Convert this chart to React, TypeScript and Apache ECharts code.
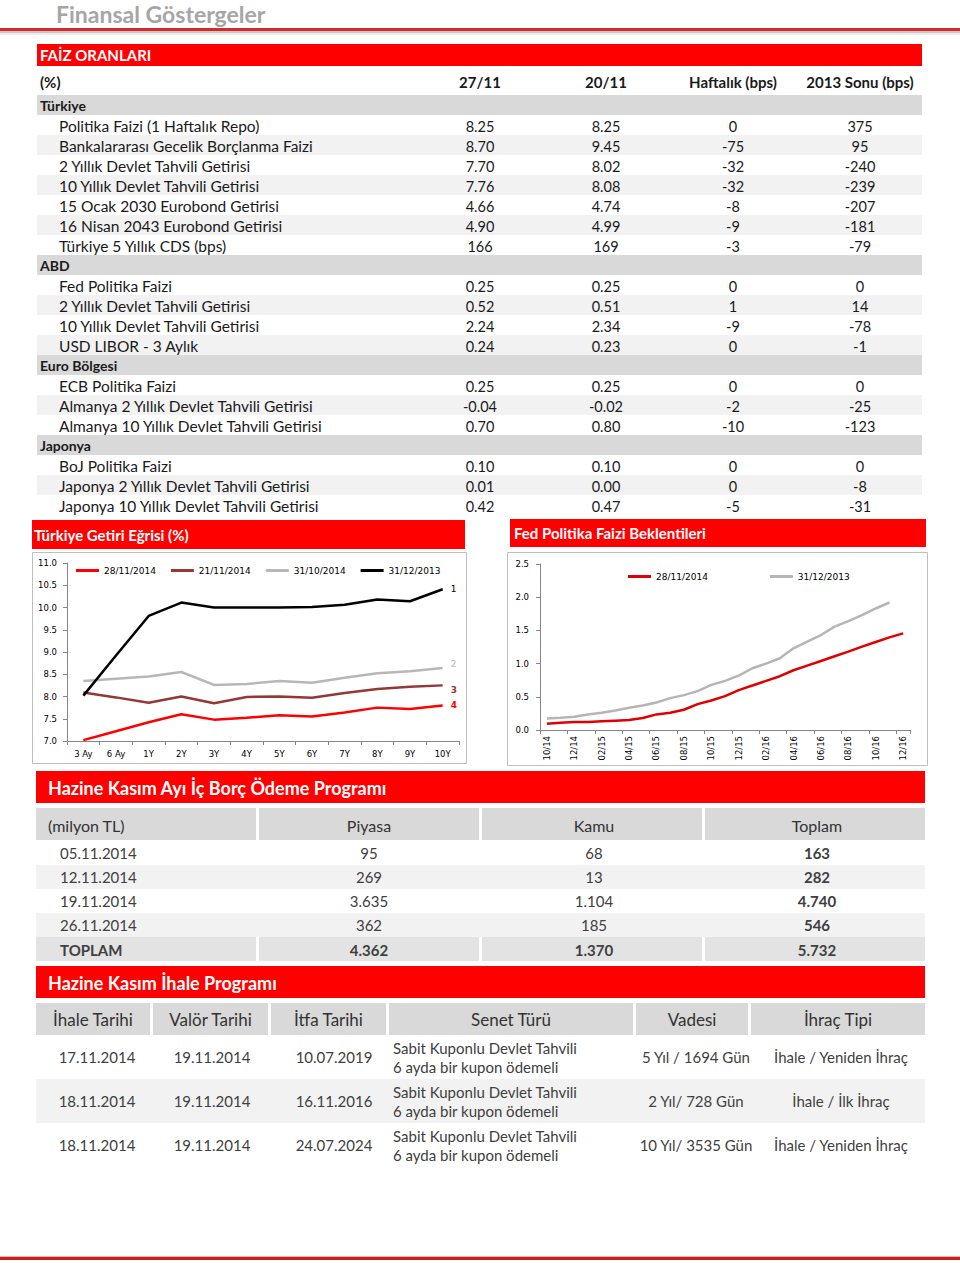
import React, { useEffect, useRef } from "react";
import * as echarts from "echarts";

const FONT = 'Lato, "Open Sans", sans-serif';
const CFONT = '"DejaVu Sans", Verdana, sans-serif';

const pageTitle = "Finansal Göstergeler";
const faizTitle = "FAİZ ORANLARI";
const faizHeader = ["(%)", "27/11", "20/11", "Haftalık (bps)", "2013 Sonu (bps)"];

const turkiyeRows = [
  ["Politika Faizi (1 Haftalık Repo)", "8.25", "8.25", "0", "375"],
  ["Bankalararası Gecelik Borçlanma Faizi", "8.70", "9.45", "-75", "95"],
  ["2 Yıllık Devlet Tahvili Getirisi", "7.70", "8.02", "-32", "-240"],
  ["10 Yıllık Devlet Tahvili Getirisi", "7.76", "8.08", "-32", "-239"],
  ["15 Ocak 2030 Eurobond Getirisi", "4.66", "4.74", "-8", "-207"],
  ["16 Nisan 2043 Eurobond Getirisi", "4.90", "4.99", "-9", "-181"],
  ["Türkiye 5 Yıllık CDS (bps)", "166", "169", "-3", "-79"],
];
const abdRows = [
  ["Fed Politika Faizi", "0.25", "0.25", "0", "0"],
  ["2 Yıllık Devlet Tahvili Getirisi", "0.52", "0.51", "1", "14"],
  ["10 Yıllık Devlet Tahvili Getirisi", "2.24", "2.34", "-9", "-78"],
  ["USD LIBOR - 3 Aylık", "0.24", "0.23", "0", "-1"],
];
const euroRows = [
  ["ECB Politika Faizi", "0.25", "0.25", "0", "0"],
  ["Almanya 2 Yıllık Devlet Tahvili Getirisi", "-0.04", "-0.02", "-2", "-25"],
  ["Almanya 10 Yıllık Devlet Tahvili Getirisi", "0.70", "0.80", "-10", "-123"],
];
const japonyaRows = [
  ["BoJ Politika Faizi", "0.10", "0.10", "0", "0"],
  ["Japonya 2 Yıllık Devlet Tahvili Getirisi", "0.01", "0.00", "0", "-8"],
  ["Japonya 10 Yıllık Devlet Tahvili Getirisi", "0.42", "0.47", "-5", "-31"],
];
const faizSections: [string, string[][]][] = [
  ["Türkiye", turkiyeRows],
  ["ABD", abdRows],
  ["Euro Bölgesi", euroRows],
  ["Japonya", japonyaRows],
];

const curveTitle = "Türkiye Getiri Eğrisi (%)";
const curveCategories = ["3 Ay", "6 Ay", "1Y", "2Y", "3Y", "4Y", "5Y", "6Y", "7Y", "8Y", "9Y", "10Y"];
const curveNames = ["28/11/2014", "21/11/2014", "31/10/2014", "31/12/2013"];
const curve281114 = [7.02, 7.22, 7.42, 7.6, 7.48, 7.52, 7.58, 7.55, 7.64, 7.75, 7.72, 7.8];
const curve211114 = [8.09, 7.98, 7.86, 8.0, 7.85, 7.99, 8.0, 7.97, 8.08, 8.17, 8.22, 8.25];
const curve311014 = [8.35, 8.4, 8.45, 8.55, 8.26, 8.28, 8.35, 8.31, 8.42, 8.52, 8.57, 8.64];
const curve311213 = [8.02, 8.92, 9.81, 10.11, 10.0, 10.0, 10.0, 10.01, 10.06, 10.18, 10.14, 10.41];
const curveEndLabels = ["4", "3", "2", "1"];

const fedTitle = "Fed Politika Faizi Beklentileri";
const fedMonths = [
  "10/14", "11/14", "12/14", "01/15", "02/15", "03/15", "04/15", "05/15", "06/15", "07/15",
  "08/15", "09/15", "10/15", "11/15", "12/15", "01/16", "02/16", "03/16", "04/16", "05/16",
  "06/16", "07/16", "08/16", "09/16", "10/16", "11/16", "12/16",
];
const fedNames = ["28/11/2014", "31/12/2013"];
const fed281114 = [
  0.095, 0.11, 0.12, 0.12, 0.13, 0.14, 0.15, 0.18, 0.235, 0.26, 0.305, 0.39, 0.445, 0.51,
  0.6, 0.67, 0.74, 0.81, 0.9, 0.97, 1.04, 1.11, 1.18, 1.255, 1.325, 1.395, 1.455,
];
const fed311213 = [
  0.175, 0.185, 0.2, 0.235, 0.26, 0.295, 0.335, 0.37, 0.415, 0.48, 0.525, 0.585, 0.68, 0.74,
  0.82, 0.93, 1.0, 1.08, 1.23, 1.33, 1.43, 1.556, 1.64, 1.73, 1.83, 1.92, null,
];

const borcTitle = "Hazine Kasım Ayı İç Borç Ödeme Programı";
const borcHeader = ["(milyon TL)", "Piyasa", "Kamu", "Toplam"];
const borcRows = [
  ["05.11.2014", "95", "68", "163"],
  ["12.11.2014", "269", "13", "282"],
  ["19.11.2014", "3.635", "1.104", "4.740"],
  ["26.11.2014", "362", "185", "546"],
];
const borcTotal = ["TOPLAM", "4.362", "1.370", "5.732"];

const ihaleTitle = "Hazine Kasım İhale Programı";
const ihaleHeader = ["İhale Tarihi", "Valör Tarihi", "İtfa Tarihi", "Senet Türü", "Vadesi", "İhraç Tipi"];
const ihaleRows = [
  ["17.11.2014", "19.11.2014", "10.07.2019", "Sabit Kuponlu Devlet Tahvili", "6 ayda bir kupon ödemeli", "5 Yıl / 1694 Gün", "İhale / Yeniden İhraç"],
  ["18.11.2014", "19.11.2014", "16.11.2016", "Sabit Kuponlu Devlet Tahvili", "6 ayda bir kupon ödemeli", "2 Yıl/ 728 Gün", "İhale / İlk İhraç"],
  ["18.11.2014", "19.11.2014", "24.07.2024", "Sabit Kuponlu Devlet Tahvili", "6 ayda bir kupon ödemeli", "10 Yıl/ 3535 Gün", "İhale / Yeniden İhraç"],
];

const RED = "#ff0000";

function buildGraphic() {
  const g: any[] = [];
  const rect = (x: number, y: number, w: number, h: number, fill: string) =>
    g.push({ type: "rect", silent: true, shape: { x, y, width: w, height: h }, style: { fill } });
  const frame = (x: number, y: number, w: number, h: number, stroke: string) =>
    g.push({ type: "rect", silent: true, shape: { x, y, width: w, height: h }, style: { fill: "none", stroke, lineWidth: 1 } });
  const text = (x: number, y: number, t: string, size: number, o: any = {}) =>
    g.push({
      type: "text",
      silent: true,
      x,
      y,
      style: {
        text: t,
        font: `${o.bold ? "bold" : "normal"} ${size}px ${o.family || FONT}`,
        fill: o.color || "#1a1a1a",
        textAlign: o.align || "left",
        align: o.align || "left",
        textVerticalAlign: "middle",
        verticalAlign: "middle",
      },
    });

  // page header
  text(56, 14, pageTitle, 23, { bold: true, color: "#a6a6a6" });
  rect(0, 28, 960, 3, "#d42a2a");
  rect(0, 31, 960, 2, "#c9c9c9");
  rect(0, 33, 960, 2, "#ececec");

  // FAİZ table
  rect(37, 44, 885, 22, RED);
  text(40, 55, faizTitle, 15, { bold: true, color: "#ffffff" });
  const cols = [480, 606, 733, 860];
  text(40, 82, faizHeader[0], 15, { bold: true });
  faizHeader.slice(1).forEach((h, i) => text(cols[i], 82, h, 15, { bold: true, align: "center" }));
  let y = 95;
  faizSections.forEach(([name, rows]) => {
    rect(37, y, 885, 20, "#d9d9d9");
    text(40, y + 10, name, 14, { bold: true });
    y += 20;
    rows.forEach((r, i) => {
      if (i % 2 === 1) rect(37, y, 885, 20, "#f2f2f2");
      text(59, y + 11, r[0], 15.5);
      r.slice(1).forEach((v, j) => text(cols[j], y + 11, v, 14.5, { align: "center" }));
      y += 20;
    });
  });

  // chart titles & frames
  rect(32, 520, 433, 29, RED);
  text(34, 535, curveTitle, 15, { bold: true, color: "#ffffff" });
  rect(510, 519, 416, 28, RED);
  text(514, 533, fedTitle, 15, { bold: true, color: "#ffffff" });
  frame(32.5, 552.5, 434, 211, "#bfbfbf");
  frame(507.5, 552.5, 420, 213, "#bfbfbf");

  // Borç table
  rect(36, 771, 889, 32, RED);
  text(48, 788, borcTitle, 18, { bold: true, color: "#ffffff" });
  const bx = [36, 259, 482, 705];
  const bc = [48, 369, 594, 817];
  bx.forEach((x) => rect(x, 808, 220, 32, "#d9d9d9"));
  borcHeader.forEach((h, i) => text(bc[i], 825, h, 16, { color: "#333333", align: i === 0 ? "left" : "center" }));
  borcRows.forEach((r, k) => {
    const ry = 841 + k * 24;
    if (k % 2 === 1) rect(36, ry, 889, 24, "#f2f2f2");
    r.forEach((v, i) =>
      text(i === 0 ? 60 : bc[i], ry + 12, v, 15, { color: "#404040", bold: i === 3, align: i === 0 ? "left" : "center" })
    );
  });
  bx.forEach((x) => rect(x, 937, 220, 24, "#e3e3e3"));
  borcTotal.forEach((v, i) =>
    text(i === 0 ? 60 : bc[i], 950, v, 15, { color: "#404040", bold: true, align: i === 0 ? "left" : "center" })
  );

  // İhale table
  rect(36, 966, 889, 32, RED);
  text(48, 983, ihaleTitle, 18, { bold: true, color: "#ffffff" });
  const ix = [
    [36, 150],
    [153, 268],
    [271, 386],
    [389, 633],
    [636, 748],
    [751, 925],
  ];
  ix.forEach(([a, b], i) => {
    rect(a, 1003, b - a, 32, "#d9d9d9");
    text((a + b) / 2, 1019, ihaleHeader[i], 17, { color: "#333333", align: "center" });
  });
  const ic = [97, 212, 334];
  ihaleRows.forEach((r, k) => {
    const ry = 1035 + k * 44;
    if (k % 2 === 1) rect(36, ry, 889, 44, "#f2f2f2");
    ic.forEach((cx, i) => text(cx, ry + 22, r[i], 15, { color: "#404040", align: "center" }));
    text(393, ry + 13, r[3], 15, { color: "#404040" });
    text(393, ry + 32, r[4], 15, { color: "#404040" });
    text(696, ry + 22, r[5], 15, { color: "#404040", align: "center" });
    text(841, ry + 22, r[6], 15, { color: "#404040", align: "center" });
  });

  // footer line
  rect(0, 1256, 960, 1, "#f3b0b0");
  rect(0, 1257, 960, 3, "#c81e1e");
  return g;
}

const curveColors = ["#ff0000", "#953735", "#b7b7b7", "#000000"];
const fedColors = ["#e00000", "#b5b5b5"];

function buildOption(): any {
  const curveData = [curve281114, curve211114, curve311014, curve311213];
  const labelOffsets = [[0, 0], [0, 5], [0, -4], [0, 0]];
  const curveSeries = curveData.map((arr, s) => ({
    name: curveNames[s],
    type: "line",
    xAxisIndex: 0,
    yAxisIndex: 0,
    symbol: "none",
    z: 2 + s,
    lineStyle: { width: 2.5, color: curveColors[s] },
    itemStyle: { color: curveColors[s] },
    endLabel: {
      show: true,
      distance: 8,
      offset: labelOffsets[s],
      formatter: curveEndLabels[s],
      color: s === 3 ? "#000000" : curveColors[s],
      fontWeight: s < 2 ? "bold" : "normal",
      fontSize: 9,
      fontFamily: CFONT,
    },
    data: arr,
  }));
  const fedSeries = [fed281114, fed311213].map((arr, s) => ({
    name: fedNames[s],
    type: "line",
    xAxisIndex: 1,
    yAxisIndex: 1,
    symbol: "none",
    z: 3 - s,
    lineStyle: { width: 2.5, color: fedColors[s] },
    itemStyle: { color: fedColors[s] },
    data: arr,
  }));

  const axisCommon = {
    axisLine: { show: true, lineStyle: { color: "#868686", width: 1 } },
    axisTick: { show: true, length: 4, lineStyle: { color: "#868686" } },
    splitLine: { show: false },
  };

  return {
    animation: false,
    backgroundColor: "#ffffff",
    graphic: { elements: buildGraphic() },
    grid: [
      { left: 67, top: 563, width: 392, height: 178 },
      { left: 540, top: 564, width: 370, height: 166 },
    ],
    legend: [
      {
        data: curveNames.map((n, i) => ({ name: n, itemStyle: { color: curveColors[i] }, lineStyle: { color: curveColors[i] } })),
        left: 71,
        top: 561,
        icon: "rect",
        itemWidth: 23,
        itemHeight: 3,
        itemGap: 15,
        textStyle: { fontSize: 9, fontFamily: CFONT, color: "#000" },
        selectedMode: false,
      },
      {
        data: fedNames.map((n, i) => ({ name: n, itemStyle: { color: fedColors[i] }, lineStyle: { color: fedColors[i] } })),
        left: 623,
        top: 567,
        icon: "rect",
        itemWidth: 23,
        itemHeight: 3,
        itemGap: 62,
        textStyle: { fontSize: 9, fontFamily: CFONT, color: "#000" },
        selectedMode: false,
      },
    ],
    xAxis: [
      {
        type: "category",
        gridIndex: 0,
        data: curveCategories,
        boundaryGap: true,
        ...axisCommon,
        axisLabel: { fontSize: 8.5, fontFamily: CFONT, color: "#000", margin: 8, interval: 0 },
      },
      {
        type: "category",
        gridIndex: 1,
        data: fedMonths,
        boundaryGap: true,
        ...axisCommon,
        axisTick: { show: true, length: 4, interval: 1, lineStyle: { color: "#868686" } },
        axisLabel: { fontSize: 8.5, fontFamily: CFONT, color: "#000", margin: 6, interval: 1, rotate: 90 },
      },
    ],
    yAxis: [
      {
        type: "value",
        gridIndex: 0,
        min: 7,
        max: 11,
        interval: 0.5,
        ...axisCommon,
        axisLabel: { fontSize: 8.5, fontFamily: CFONT, color: "#000", margin: 10, formatter: (v: number) => v.toFixed(1) },
      },
      {
        type: "value",
        gridIndex: 1,
        min: 0,
        max: 2.5,
        interval: 0.5,
        ...axisCommon,
        axisLabel: { fontSize: 8.5, fontFamily: CFONT, color: "#000", margin: 11, formatter: (v: number) => v.toFixed(1) },
      },
    ],
    series: [...curveSeries, ...fedSeries],
  };
}

export default function App() {
  const ref = useRef<HTMLDivElement>(null);
  useEffect(() => {
    if (!ref.current) return;
    const chart = echarts.init(ref.current, undefined, { renderer: "svg" });
    chart.setOption(buildOption());
    return () => chart.dispose();
  }, []);
  return (
    <div style={{ position: "absolute", left: 0, top: 0, width: 960, height: 1263, background: "#fff" }}>
      <div ref={ref} style={{ width: 960, height: 1263 }} />
    </div>
  );
}
